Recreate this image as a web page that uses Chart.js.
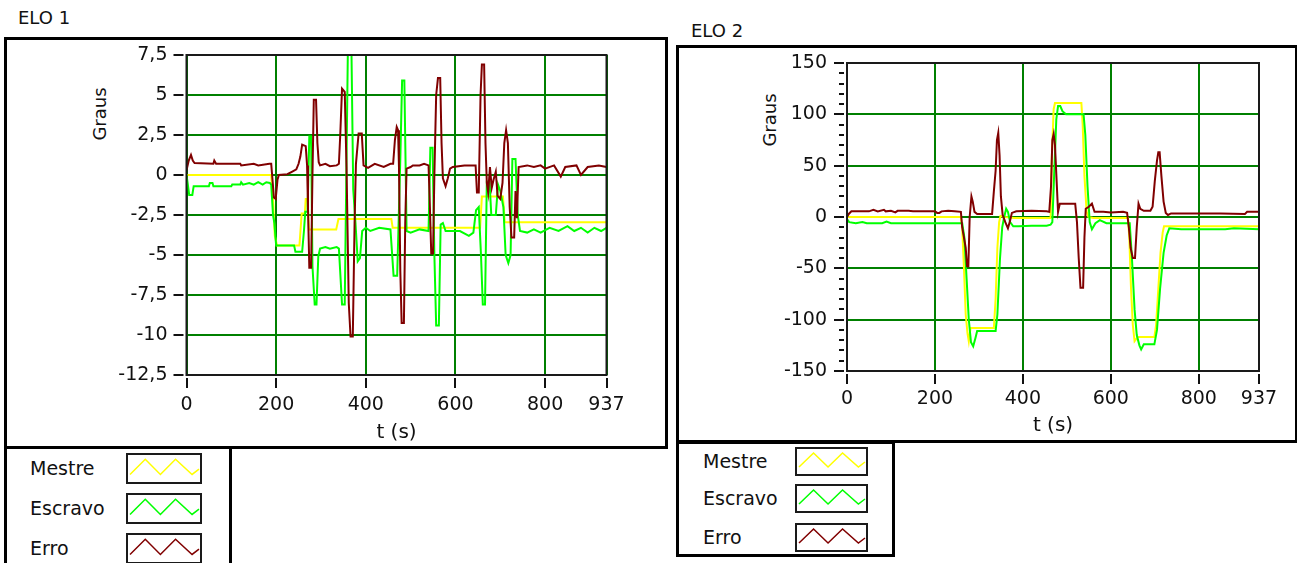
<!DOCTYPE html>
<html><head><meta charset="utf-8">
<script src="https://cdn.jsdelivr.net/npm/chart.js@4.4.1/dist/chart.umd.min.js"></script>
<style>
html,body{margin:0;padding:0;background:#fff;width:1297px;height:563px;overflow:hidden;font-family:'DejaVu Sans',sans-serif;color:#111;}
.frame{position:absolute;border:3px solid #000;box-sizing:border-box;background:#fff;}
.title{position:absolute;font-size:18px;line-height:1;white-space:nowrap;}
.ytitle{position:absolute;font-size:18px;line-height:1;white-space:nowrap;transform:translate(-50%,-50%) rotate(-90deg);}
.legtext{position:absolute;font-size:19px;line-height:1;white-space:nowrap;transform:translateY(-50%);}
.swatch{position:absolute;box-sizing:border-box;border:2px solid #1a1a1a;background:#fff;}
.swatch svg{position:absolute;left:0;top:0;}
canvas{position:absolute;}
</style></head><body>
<div class="title" style="left:18px;top:9px;">ELO 1</div>
<div class="frame" style="left:4px;top:37px;width:664px;height:412px;"></div>
<div class="frame" id="leg1" style="left:4px;top:446px;width:228px;height:130px;"></div>
<div class="ytitle" style="left:100px;top:114px;">Graus</div>
<canvas id="c1" width="570" height="405" style="left:88px;top:40px;width:570px;height:405px;"></canvas>

<div class="title" style="left:691px;top:22px;">ELO 2</div>
<div class="frame" style="left:676px;top:45px;width:622px;height:398px;"></div>
<div class="frame" id="leg2" style="left:676px;top:441px;width:219px;height:116px;"></div>
<div class="ytitle" style="left:770px;top:120px;">Graus</div>
<canvas id="c2" width="538" height="389" style="left:755px;top:50px;width:538px;height:389px;"></canvas>

<script>
// ---------- data ----------
const seriesNames = ['Mestre', 'Escravo', 'Erro'];
const seriesColors = ['#FFFF00', '#00FF00', '#800000'];
const xTicks = [0, 200, 400, 600, 800, 937];
const xTitle = 't (s)';

// ELO 1  [t (s), graus]
const elo1Mestre = [[0,0],[189,0],[193,-1.5],[197,-3.8],[202,-4.4],[252,-4.4],[257,-2.4],[264,-2.4],[266,-1.5],[270,-1.5],[273,-3.4],[334,-3.4],[339,-2.75],[457,-2.75],[460,-3.3],[655,-3.3],[659,-1.35],[706,-1.35],[710,-2.95],[937,-2.95]];
const elo1Escravo = [[0,0],[3,-0.6],[6,-1.25],[13,-1.25],[16,-0.7],[50,-0.7],[52,-0.5],[58,-0.5],[60,-0.7],[100,-0.7],[102,-0.6],[120,-0.6],[122,-0.45],[126,-0.6],[140,-0.5],[150,-0.6],[160,-0.45],[170,-0.6],[178,-0.45],[186,-0.5],[189,-0.6],[193,-2.5],[196,-3],[200,-4.4],[240,-4.4],[243,-4.8],[258,-4.8],[262,-3.5],[265,-2.3],[270,-2.3],[274,2.4],[278,2.4],[281,-5.7],[286,-8.1],[290,-8.1],[294,-5.1],[298,-4.6],[310,-4.5],[320,-4.6],[335,-4.5],[340,-4.6],[347,-8.1],[353,-8.1],[360,7.8],[368,7.8],[372,-0.9],[377,-3],[382,-5.4],[387,-5.2],[392,-3.5],[400,-3.3],[410,-3.5],[430,-3.3],[455,-3.4],[462,-6.3],[470,-6.3],[477,1],[481,5.9],[486,5.9],[491,-3.5],[500,-3.6],[520,-3.4],[540,-3.5],[544,1.7],[549,1.7],[553,-5],[557,-9.4],[563,-9.4],[567,-3.1],[572,-3.0],[578,-3.5],[610,-3.5],[630,-3.8],[640,-3.6],[646,-2.2],[652,-2.0],[657,-5],[661,-8.1],[666,-8.1],[670,-0.4],[676,-0.4],[680,-2.5],[690,-2.5],[695,-0.6],[700,-1.0],[707,-2],[712,-5],[718,-5.5],[723,-5.0],[727,1.0],[734,1.0],[739,-2.5],[744,-3.5],[760,-3.6],[775,-3.4],[790,-3.6],[810,-3.3],[830,-3.5],[850,-3.2],[865,-3.5],[880,-3.3],[895,-3.6],[910,-3.3],[925,-3.5],[937,-3.3]];
const elo1Erro = [[0,0.3],[5,0.9],[10,1.25],[14,0.9],[18,0.75],[60,0.7],[62,0.9],[66,0.7],[120,0.7],[122,0.6],[150,0.7],[160,0.6],[185,0.7],[189,0.7],[191,0],[195,-1.4],[199,-1.5],[203,-0.3],[206,0],[225,0.05],[235,0.2],[245,0.35],[250,0.7],[254,1.15],[258,1.9],[266,1.8],[269,0.6],[271,-2],[274,-5.8],[278,-5.8],[281,0],[284,4.7],[289,4.7],[292,2],[295,0.8],[298,0.6],[310,0.7],[320,0.55],[335,0.6],[340,0.7],[343,2.5],[347,5.4],[353,5.2],[357,0.5],[362,-8],[366,-10.1],[371,-10.1],[375,-3],[378,0.7],[384,2.6],[391,2.6],[395,0.6],[405,0.45],[420,0.7],[440,0.5],[455,0.7],[461,0.7],[465,2.2],[469,3.0],[472,2.8],[474,0.5],[477,-6],[480,-9.25],[485,-9.25],[488,-3],[491,0.4],[500,0.5],[505,0.6],[520,0.6],[530,0.7],[540,0.6],[543,-2],[546,-4.9],[550,-4.9],[553,0],[557,5],[561,6.06],[566,6.06],[569,2],[572,-0.2],[578,-0.7],[583,-0.2],[588,0.4],[594,0.5],[620,0.6],[645,0.6],[648,-1.1],[652,-1.1],[656,5],[659,6.9],[664,6.9],[667,2],[670,-0.5],[673,-1.1],[677,0.5],[681,-0.8],[685,-0.3],[690,0.2],[694,-1.3],[700,-1.5],[705,-0.5],[709,2],[713,2.8],[717,2],[721,-2],[725,-3.9],[731,-3.9],[734,-1],[737,-2.7],[741,0.5],[760,0.6],[775,0.5],[790,0.6],[800,0.4],[820,0.6],[835,-0.1],[845,0.5],[870,0.6],[880,0],[895,0.5],[920,0.6],[937,0.5]];

// ELO 2  [t (s), graus]
const elo2Mestre = [[0,0],[259,0],[262,-10],[266,-50],[270,-95],[274,-113],[277,-121],[281,-108],[334,-108],[338,-80],[342,-30],[346,-5],[349,1],[360,0],[380,-1],[463,-1],[466,60],[470,105],[473,111],[533,111],[536,90],[540,40],[545,5],[549,0],[560,-1],[639,-1],[642,-20],[646,-70],[650,-105],[654,-121],[661,-117],[699,-117],[703,-105],[708,-70],[713,-35],[718,-15],[721,-9],[937,-9]];
const elo2Escravo = [[0,-2],[5,-5],[20,-6],[35,-5],[45,-6],[80,-6],[90,-4.5],[100,-6],[262,-6],[267,-20],[272,-60],[277,-100],[282,-122],[287,-126],[292,-118],[296,-111],[338,-111],[342,-95],[348,-40],[353,-10],[357,-1],[362,8],[366,5],[371,-5],[378,-9],[390,-9],[420,-8.5],[454,-8.5],[463,-7.5],[467,-5],[471,40],[476,95],[480,108],[485,108],[490,103],[498,100],[538,100],[542,80],[547,30],[552,-5],[557,-12],[565,-6],[575,-3],[590,-6],[643,-6],[648,-40],[654,-90],[659,-115],[665,-125],[669,-129],[675,-124],[699,-124],[705,-110],[712,-70],[720,-35],[727,-18],[733,-11],[760,-12],[860,-12],[880,-11],[937,-12]];
const elo2Erro = [[0,0],[4,3],[10,5.5],[50,5.5],[60,7],[70,5.5],[84,7],[88,5.5],[100,6],[110,4.5],[115,6],[140,6],[150,5.5],[200,5.5],[205,4],[210,4],[215,5.5],[230,6],[245,5.5],[259,5],[262,-10],[266,-20],[270,-30],[273,-48],[276,-48],[279,0],[283,20],[286,15],[290,5],[296,3],[330,3],[334,25],[338,45],[341,75],[344,82],[347,60],[350,20],[354,2],[360,-5],[366,-11],[370,-5],[375,4],[385,5.5],[420,6],[454,5.5],[460,5],[464,30],[467,75],[470,81],[473,70],[476,42],[480,5],[484,13],[519,13],[523,-5],[527,-40],[531,-69],[537,-69],[540,-20],[543,8],[550,10],[557,13],[563,5],[583,5],[600,4.5],[628,5],[637,4],[641,-10],[645,-30],[650,-40],[655,-40],[659,-10],[663,13],[667,8],[675,6],[690,6],[695,10],[700,35],[705,55],[708,63],[711,63],[715,40],[720,15],[725,4],[730,2],[737,3.5],[850,3.5],[905,3],[910,5],[937,5]];

// ---------- helpers ----------
const gridGreen = '#008000';
const toXY = arr => arr.map(p => ({x: p[0], y: p[1]}));

const frameBox = {
  id: 'frameBox',
  afterDatasetsDraw(chart) {
    const {ctx, chartArea: a} = chart;
    ctx.save();
    ctx.strokeStyle = '#1a1a1a';
    ctx.lineWidth = 2;
    ctx.strokeRect(a.left, a.top, a.right - a.left, a.bottom - a.top);
    ctx.restore();
  }
};

const outerTicks = {
  id: 'outerTicks',
  afterDraw(chart, args, o) {
    const {ctx, chartArea: a, scales: {x, y}} = chart;
    ctx.save();
    ctx.strokeStyle = '#111';
    ctx.lineWidth = 2;
    ctx.beginPath();
    x.ticks.forEach(t => {
      const px = Math.round(x.getPixelForValue(t.value));
      ctx.moveTo(px, a.bottom + o.gap); ctx.lineTo(px, a.bottom + o.gap + o.len);
    });
    y.ticks.forEach(t => {
      const py = Math.round(y.getPixelForValue(t.value));
      ctx.moveTo(a.left - o.gap, py); ctx.lineTo(a.left - o.gap - o.len, py);
    });
    if (o.minorStep) {
      for (let v = y.min; v <= y.max + 1e-9; v += o.minorStep) {
        if (Math.abs(v % o.majorStep) < 1e-9) continue;
        const py = Math.round(y.getPixelForValue(v));
        ctx.moveTo(a.left - o.gap, py); ctx.lineTo(a.left - o.gap - o.minorLen, py);
      }
    }
    ctx.stroke();
    ctx.restore();
  }
};

function makeChart(id, sets, yOpt, geom) {
  const datasets = sets.map((d, i) => ({
    label: seriesNames[i],
    data: toXY(d),
    borderColor: seriesColors[i],
    backgroundColor: seriesColors[i],
    borderWidth: 2,
    pointRadius: 0,
    tension: 0,
    fill: false,
    order: 2 - i
  }));
  return new Chart(document.getElementById(id), {
    type: 'line',
    data: {datasets},
    plugins: [frameBox, outerTicks],
    options: {
      responsive: false,
      animation: false,
      devicePixelRatio: 1,
      layout: {padding: {left: 0, top: geom.padTop, right: geom.padRight, bottom: 0}},
      plugins: {
        legend: {display: false},
        tooltip: {enabled: false},
        outerTicks: {gap: geom.tickGap, len: 10, minorLen: 5, minorStep: yOpt.minorStep, majorStep: yOpt.step}
      },
      scales: {
        x: {
          type: 'linear', min: 0, max: 937,
          afterBuildTicks: s => { s.ticks = xTicks.map(v => ({value: v})); },
          afterFit: s => { s.height = geom.xHeight; s.paddingLeft = 0; s.paddingRight = 0; s.paddingTop = 0; s.paddingBottom = 0; },
          grid: {color: gridGreen, lineWidth: 2, drawTicks: false},
          border: {display: false},
          ticks: {color: '#111', padding: geom.xLabelPad, maxRotation: 0, autoSkip: false,
                  font: {family: 'DejaVu Sans', size: 19}, callback: v => String(v)},
          title: {display: true, text: xTitle, color: '#111', font: {family: 'DejaVu Sans', size: 20},
                  padding: {top: 0, bottom: geom.xTitlePad}}
        },
        y: {
          type: 'linear', min: yOpt.min, max: yOpt.max,
          afterFit: s => { s.width = geom.yWidth; s.paddingTop = 0; s.paddingBottom = 0; s.paddingLeft = 0; s.paddingRight = 0; },
          grid: {color: gridGreen, lineWidth: 2, drawTicks: false},
          border: {display: false},
          ticks: {stepSize: yOpt.step, color: '#111', padding: geom.yLabelPad,
                  font: {family: 'DejaVu Sans', size: 19},
                  callback: v => String(v).replace('.', ',')}
        }
      }
    }
  });
}

makeChart('c1', [elo1Mestre, elo1Escravo, elo1Erro],
  {min: -12.5, max: 7.5, step: 2.5},
  {padTop: 15, padRight: 51.5, yWidth: 98.5, xHeight: 70, tickGap: 3, yLabelPad: 19, xLabelPad: 19, xTitlePad: 0});

makeChart('c2', [elo2Mestre, elo2Escravo, elo2Erro],
  {min: -150, max: 150, step: 50, minorStep: 10},
  {padTop: 13, padRight: 34, yWidth: 92, xHeight: 68, tickGap: 3, yLabelPad: 20, xLabelPad: 17, xTitlePad: 1});

// ---------- legends ----------
function buildLegend(g) {
  seriesNames.forEach((name, i) => {
    const t = document.createElement('div');
    t.className = 'legtext';
    t.textContent = name;
    t.style.left = g.textX + 'px';
    t.style.top = g.centers[i] + 'px';
    document.body.appendChild(t);
    const s = document.createElement('div');
    s.className = 'swatch';
    s.style.left = g.swX + 'px';
    s.style.top = (g.centers[i] - g.swH / 2) + 'px';
    s.style.width = g.swW + 'px';
    s.style.height = g.swH + 'px';
    const w = g.swW - 4, h = g.swH - 4;
    const lo = h * 0.72, hi = h * 0.16;
    const pts = [[2, lo], [w * 0.24, hi], [w * 0.45, lo], [w * 0.66, hi], [w * 0.89, lo], [w - 1, h * 0.52]];
    s.innerHTML = '<svg width="' + w + '" height="' + h + '"><polyline fill="none" stroke="' + seriesColors[i] +
      '" stroke-width="1.5" points="' + pts.map(p => p.join(',')).join(' ') + '"/></svg>';
    document.body.appendChild(s);
  });
}
buildLegend({textX: 30, swX: 126, swW: 76, swH: 31, centers: [468, 508, 548]});
buildLegend({textX: 703, swX: 795, swW: 73, swH: 29, centers: [461, 498, 537]});
</script>
</body></html>
